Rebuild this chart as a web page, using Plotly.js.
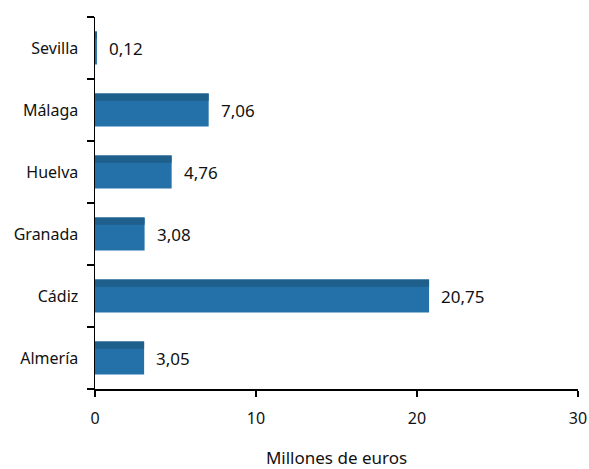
<!DOCTYPE html>
<html>
<head>
<meta charset="utf-8">
<script src="https://cdn.plot.ly/plotly-3.0.1.min.js"></script>
<style>html,body{margin:0;padding:0;background:#fff;}#chart{width:589px;height:469px;}</style>
</head>
<body>
<div id="chart"></div>
<script>
const provincias = ["Almería", "Cádiz", "Granada", "Huelva", "Málaga", "Sevilla"];
const valores = [3.05, 20.75, 3.08, 4.76, 7.06, 0.12];
const xTicks = [0, 10, 20, 30];
const xTitle = "Millones de euros";

const fontFam = "Noto Sans, sans-serif";
const fs = 16;

const baseTrace = {
  type: "bar", orientation: "h",
  x: valores, y: provincias,
  width: 0.53,
  marker: {color: "#2371a8", line: {width: 0}},
  hoverinfo: "x+y"
};
const stripTrace = {
  type: "bar", orientation: "h",
  x: valores, y: provincias,
  width: 0.115, offset: 0.15,
  marker: {color: "#1e5f8c", line: {width: 0}},
  hoverinfo: "skip"
};

const annotations = provincias.map((p, i) => ({
  x: valores[i], y: p, xref: "x", yref: "y",
  text: valores[i].toFixed(2).replace(".", ","),
  showarrow: false, xanchor: "left", xshift: 10, yshift: 0,
  font: {family: fontFam, size: 17, color: "#111"}
}));

const layout = {
  width: 589, height: 469,
  margin: {l: 95, r: 11, t: 17, b: 80},
  paper_bgcolor: "#fff", plot_bgcolor: "#fff",
  barmode: "overlay",
  showlegend: false,
  separators: ",.",
  font: {family: fontFam, size: fs, color: "#111"},
  xaxis: {
    range: [0, 30], tickvals: xTicks, ticktext: xTicks.map(String),
    showgrid: false, zeroline: false,
    showline: true, linecolor: "#000", linewidth: 1.5,
    ticks: "outside", ticklen: 6, tickwidth: 1.5, tickcolor: "#000",
    ticklabelstandoff: 8,
    tickfont: {family: fontFam, size: fs, color: "#111"},
    title: {text: xTitle, font: {family: fontFam, size: 17, color: "#111"}, standoff: 35},
    fixedrange: true
  },
  yaxis: {
    type: "category", categoryorder: "array", categoryarray: provincias,
    range: [-0.5, 5.5],
    showgrid: false, zeroline: false,
    showline: true, linecolor: "#000", linewidth: 1.5,
    ticks: "outside", tickson: "boundaries", ticklen: 7, tickwidth: 1.5, tickcolor: "#000",
    ticklabelstandoff: 12,
    tickfont: {family: fontFam, size: fs, color: "#111"},
    fixedrange: true
  },
  annotations: annotations
};

Plotly.newPlot("chart", [baseTrace, stripTrace], layout, {displayModeBar: false, staticPlot: true});
</script>
</body>
</html>
